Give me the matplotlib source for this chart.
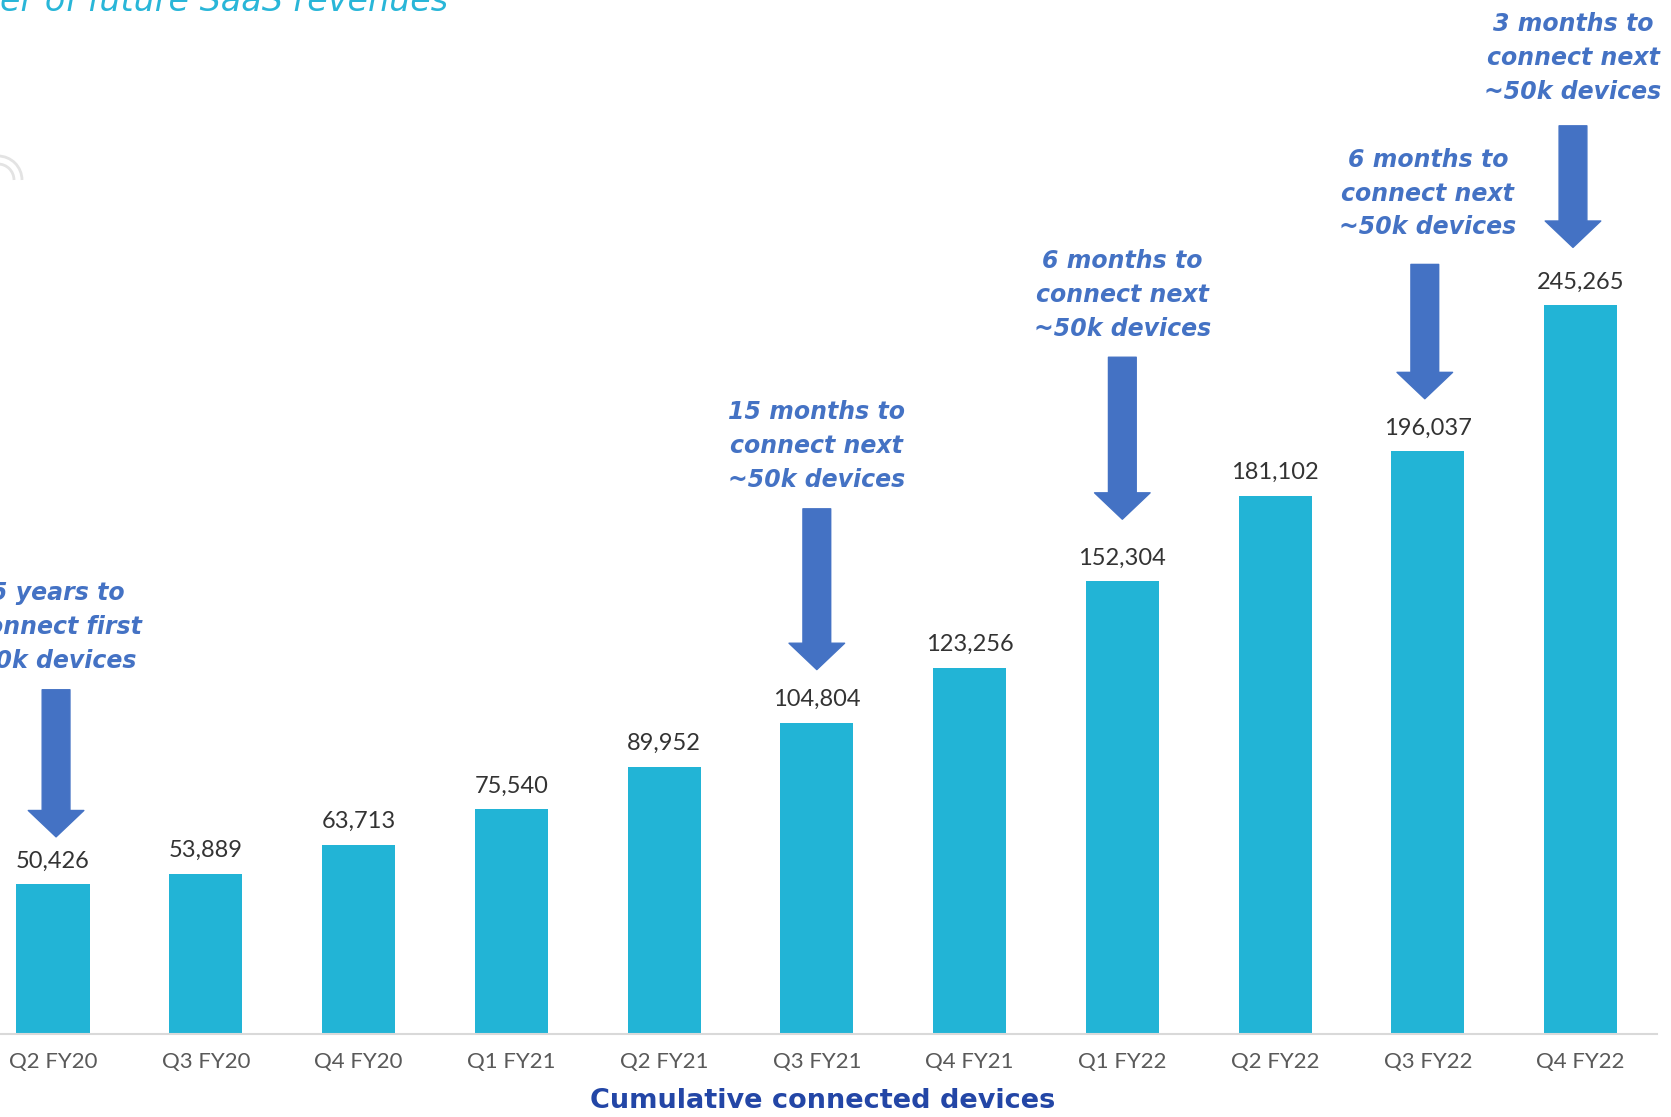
import matplotlib
matplotlib.use("Agg")
import matplotlib.pyplot as plt
from matplotlib.patches import Arc

# quarterly cumulative connected devices
quarters = ["Q2 FY20", "Q3 FY20", "Q4 FY20", "Q1 FY21", "Q2 FY21", "Q3 FY21",
            "Q4 FY21", "Q1 FY22", "Q2 FY22", "Q3 FY22", "Q4 FY22"]
devices = [50426, 53889, 63713, 75540, 89952, 104804,
           123256, 152304, 181102, 196037, 245265]

# callouts: bar index, text, arrow length (devices), x nudge
callout_idx = [0, 5, 7, 9, 10]
callout_text = [
    "5 years to\nconnect first\n50k devices",
    "15 months to\nconnect next\n~50k devices",
    "6 months to\nconnect next\n~50k devices",
    "6 months to\nconnect next\n~50k devices",
    "3 months to\nconnect next\n~50k devices",
]
callout_len = [49500, 54100, 54500, 45200, 40900]
callout_gap = [15900, 17800, 20900, 17700, 19400]
callout_dx = [0.02, 0.0, 0.0, -0.02, -0.05]
callout_tx = [0.03, 0.0, 0.0, 0.0, -0.05]
callout_pad = [12, 12, 12, 18, 16]

BAR = "#22B4D6"
ARROW = "#4472C4"
FONT = "Lato"
WIDE = "DejaVu Sans"

fig = plt.figure(figsize=(16.71, 11.17), dpi=100)
ax = fig.add_axes([0, 83 / 1117, 1657 / 1671, 1034 / 1117])

x = list(range(len(quarters)))
ax.bar(x, devices, width=0.478, color=BAR, zorder=2)

for xi, v in zip(x, devices):
    ax.annotate(f"{v:,}", (xi, v), xytext=(0, 9), textcoords="offset points",
                ha="center", va="bottom", fontsize=17, color="#333333",
                family=FONT)

for i, txt, ln, gap, dx, tx, pad in zip(callout_idx, callout_text, callout_len,
                                        callout_gap, callout_dx, callout_tx,
                                        callout_pad):
    xc = i + dx
    tip = devices[i] + gap
    top = tip + ln
    ax.annotate("", xy=(xc, tip), xytext=(xc, top),
                arrowprops=dict(arrowstyle="simple,head_length=19,head_width=40,tail_width=20",
                                mutation_scale=1, color=ARROW, shrinkA=0, shrinkB=0))
    ax.annotate(txt, (i + tx, top), xytext=(0, pad), textcoords="offset points",
                ha="center", va="bottom", fontsize=17, color=ARROW,
                fontweight="bold", fontstyle="italic", family=WIDE,
                linespacing=1.52, annotation_clip=False)

ax.set_xlim(-0.347, 10.50)
ax.set_ylim(0, 347900)
ax.set_xticks(x)
ax.set_xticklabels(quarters, fontsize=16, color="#595959", family=FONT)
ax.tick_params(axis="x", length=0, pad=13)
ax.set_yticks([])
for s in ["top", "left", "right"]:
    ax.spines[s].set_visible(False)
ax.spines["bottom"].set_color("#D9D9D9")
ax.spines["bottom"].set_linewidth(1.5)
ax.patch.set_alpha(0)

fig.text(823 / 1671, 1 - 1101 / 1117, "Cumulative connected devices",
         ha="center", va="center", fontsize=19.5, fontweight="bold",
         color="#2346A6", family=WIDE)

# slide heading running off the top edge
fig.text(448 / 1671, 1 - 11 / 1117, "er of future SaaS revenues",
         ha="right", va="baseline", fontsize=24, fontstyle="italic",
         color="#29B6D8", family=WIDE)

# partial icon outline at the left edge
for r in (24, 16):
    fig.add_artist(Arc((-2 / 1671, 1 - 180 / 1117), 2 * r / 1671, 2 * r / 1117,
                       theta1=0, theta2=90, color="#E3E3E3", lw=2,
                       transform=fig.transFigure))

fig.savefig("out.png", dpi=100)
